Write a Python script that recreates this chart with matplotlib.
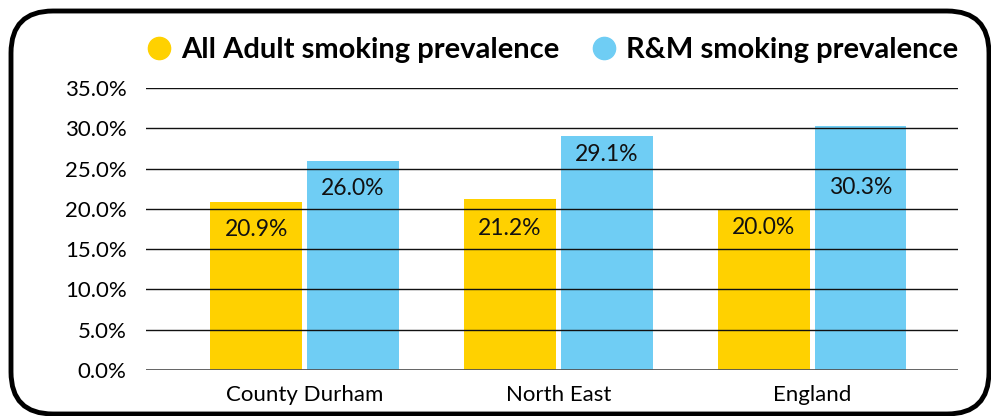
import matplotlib
matplotlib.use("Agg")
import matplotlib.pyplot as plt
from matplotlib.patches import FancyBboxPatch
from matplotlib.lines import Line2D
import numpy as np

plt.rcParams['font.family'] = ['Lato', 'DejaVu Sans']

categories = ["County Durham", "North East", "England"]
all_adult = [20.9, 21.2, 20.0]
rm = [26.0, 29.1, 30.3]
series_names = ["All Adult smoking prevalence", "R&M smoking prevalence"]
colors = ["#FFD100", "#6FCDF4"]
yticks = [0, 5, 10, 15, 20, 25, 30, 35]

# label drop below bar top (pixels), as placed in the original
drop_adult = [28, 29, 19]
drop_rm = [28, 19, 62]

W, H = 991, 416
fig = plt.figure(figsize=(W/100, H/100), dpi=100)
ax = fig.add_axes([146/W, 1 - 370/H, (958-146)/W, (370-88)/H])

x = np.arange(len(categories))
w = 0.362
gap = 0.01
b1 = ax.bar(x - w/2 - gap, all_adult, w, color=colors[0], zorder=1)
b2 = ax.bar(x + w/2 + gap, rm, w, color=colors[1], zorder=1)

for bars, vals, drops in ((b1, all_adult, drop_adult), (b2, rm, drop_rm)):
    for r, v, d in zip(bars, vals, drops):
        ax.annotate(f"{v:.1f}%", (r.get_x() + r.get_width()/2, v),
                    xytext=(0, -d * 0.72), textcoords="offset points",
                    ha="center", va="center", fontsize=16.5, color="#111111", zorder=3)

ax.set_xlim(-0.625, 2.575)
ax.set_ylim(0, 35)
ax.set_yticks(yticks)
ax.set_yticklabels([f"{t:.1f}%" for t in yticks], fontsize=16)
ax.set_xticks(x)
ax.set_xticklabels(categories, fontsize=16)
ax.tick_params(length=0)
ax.tick_params(axis='x', pad=11)
ax.tick_params(axis='y', pad=14)
for s in ax.spines.values():
    s.set_visible(False)
for t in yticks[1:]:
    ax.axhline(t, color="#111111", lw=1.0, zorder=2)
ax.axhline(0, color="#555555", lw=2.0, zorder=2)

handles = [Line2D([], [], marker='o', linestyle='none', markersize=16,
                  markerfacecolor=c, markeredgecolor=c) for c in colors]
fig.legend(handles, series_names, loc="center", bbox_to_anchor=(0.557, 0.88),
           ncol=2, frameon=False, prop={'weight': 'bold', 'size': 21},
           handletextpad=0.3, columnspacing=1.1, handlelength=0.9)

# rounded frame, in pixel units
x0, y0, x1, y1 = 11, 11, 989, 414
r = 42
border = FancyBboxPatch((x0/W, 1 - y1/H), (x1-x0)/W, (y1-y0)/H,
                        boxstyle=f"round,pad=0,rounding_size={r/W}",
                        transform=fig.transFigure, fill=False,
                        edgecolor="black", lw=3.5, mutation_aspect=W/H,
                        clip_on=False)
fig.patches.append(border)

fig.savefig("out.png", dpi=100)
